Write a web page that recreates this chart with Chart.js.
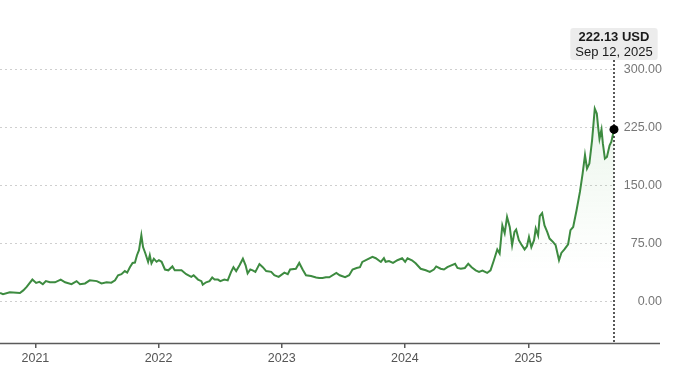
<!DOCTYPE html>
<html>
<head>
<meta charset="utf-8">
<script src="https://cdn.jsdelivr.net/npm/chart.js@4/dist/chart.umd.min.js"></script>
<style>
  html, body { margin: 0; padding: 0; background: #fff; }
  #wrap { width: 680px; height: 372px; position: relative; }
</style>
</head>
<body>
<div id="wrap"><canvas id="c"></canvas></div>
<script>
const dates = [
  '2020-09-18','2020-09-27','2020-10-17','2020-11-16','2020-11-26','2020-12-06','2020-12-23',
  '2021-01-03','2021-01-13','2021-01-23','2021-02-01','2021-02-13','2021-02-28','2021-03-17','2021-03-30',
  '2021-04-18','2021-05-03','2021-05-13','2021-05-28','2021-06-11','2021-07-02','2021-07-16','2021-07-31',
  '2021-08-14','2021-08-25','2021-09-03','2021-09-13','2021-09-23','2021-09-30','2021-10-08','2021-10-16',
  '2021-10-23','2021-10-29','2021-11-04','2021-11-11','2021-11-16','2021-11-23','2021-12-01','2021-12-06',
  '2021-12-11','2021-12-18','2021-12-26',
  '2022-01-02','2022-01-10','2022-01-20','2022-01-30','2022-02-11','2022-02-18','2022-03-10','2022-03-24',
  '2022-04-08','2022-04-15','2022-04-28','2022-05-08','2022-05-12','2022-05-22','2022-06-01','2022-06-09',
  '2022-06-16','2022-06-26','2022-07-03','2022-07-15','2022-07-25','2022-08-04','2022-08-11','2022-08-19',
  '2022-08-29','2022-09-08','2022-09-16','2022-09-22','2022-09-30','2022-10-07','2022-10-15','2022-10-27',
  '2022-11-06','2022-11-16','2022-12-01','2022-12-10','2022-12-23',
  '2023-01-09','2023-01-19','2023-01-26','2023-02-12','2023-02-22','2023-03-04','2023-03-14','2023-03-29',
  '2023-04-13','2023-04-22','2023-05-02','2023-05-12','2023-05-22','2023-06-12','2023-06-22','2023-07-08',
  '2023-07-20','2023-07-30','2023-08-11','2023-08-21','2023-08-28','2023-09-12','2023-09-27','2023-10-07',
  '2023-10-22','2023-10-31','2023-11-05','2023-11-15','2023-11-27','2023-12-10','2023-12-24',
  '2024-01-02','2024-01-09','2024-01-22','2024-02-02','2024-02-17','2024-03-03','2024-03-15','2024-03-27',
  '2024-04-03','2024-04-16','2024-04-26','2024-05-06','2024-05-16','2024-05-29','2024-06-05','2024-06-15',
  '2024-06-27','2024-07-07','2024-07-17','2024-07-29','2024-08-08','2024-08-18','2024-09-01','2024-09-11',
  '2024-09-21','2024-10-01','2024-10-08','2024-10-16','2024-10-23','2024-10-30','2024-11-07','2024-11-14',
  '2024-11-21','2024-11-26','2024-12-04','2024-12-11','2024-12-21','2024-12-28',
  '2025-01-03','2025-01-10','2025-01-18','2025-01-23','2025-01-30','2025-02-04','2025-02-11','2025-02-18',
  '2025-02-26','2025-03-05','2025-03-15','2025-03-23','2025-04-02','2025-04-09','2025-04-18','2025-04-29',
  '2025-05-06','2025-05-14','2025-05-24','2025-06-03','2025-06-11','2025-06-18','2025-06-24','2025-07-01',
  '2025-07-09','2025-07-17','2025-07-23','2025-07-27','2025-07-31','2025-08-06','2025-08-10','2025-08-16',
  '2025-08-22','2025-08-30','2025-09-04','2025-09-12'
];
const prices = [
  10.7, 9, 11.5, 10.7, 14, 18.5, 28,
  23.7, 25, 22, 26, 24.5, 24.5, 28, 24.5,
  22, 26, 22, 23, 27, 26, 23, 24.5,
  24, 27, 33.6, 35, 39, 37, 44, 49.5,
  50, 59.5, 66, 85.3, 70, 61.7, 50.8, 59.5,
  49, 55, 51,
  53, 51, 41, 40, 45, 40, 40, 35,
  31.5, 33.6, 28, 26, 21.5, 24.5, 26, 30.6,
  28, 28, 26, 28, 27, 38, 44, 39,
  46.5, 55, 46.5, 36, 41, 40, 38, 48,
  44, 39, 38, 33.6, 31.5,
  37, 35, 41, 42, 49.5, 41, 33.6, 32.5,
  30.6, 30, 30, 31, 31, 36.6, 33.6, 31,
  33.6, 41, 43, 44, 50.8, 54, 57.3, 55.6,
  50.8, 55.6, 51, 52, 49.5, 53, 55.6,
  51, 55.6, 53, 49, 42, 40, 38, 41,
  45, 42, 41, 44, 46, 48.5, 43, 42,
  43, 48.5, 44, 40, 38, 39.6, 36.6, 40,
  53, 67, 61.7, 98, 88, 109, 96, 72.4,
  89.6, 92.7, 79, 73.7, 67, 71,
  83, 70, 79, 94, 85, 110, 114, 98,
  89.6, 81, 76.7, 72.4, 53, 62.5, 67, 73.7,
  92, 96, 117.7, 141.3, 165, 189, 171.6, 178,
  208, 249, 242.7, 225, 210, 222, 204, 184.5,
  186.6, 201.7, 206, 222.13
];
const yearTicks = ['2021', '2022', '2023', '2024', '2025'];
const priceTicks = [0, 75, 150, 225, 300];
const currency = 'USD';
const lastDateLabel = 'Sep 12, 2025';

const toMs = s => { const [y, m, d] = s.split('-').map(Number); return Date.UTC(y, m - 1, d); };
const points = dates.map((d, i) => ({ x: toMs(d), y: prices[i] }));
const yearTickValues = yearTicks.map(y => Date.UTC(Number(y), 0, 1));

const LINE = '#3d8b40';

const overlay = {
  id: 'overlay',
  afterDraw(chart) {
    const { ctx, chartArea } = chart;
    const xs = chart.scales.x, ys = chart.scales.y;
    const last = points[points.length - 1];
    const px = xs.getPixelForValue(last.x);
    const py = ys.getPixelForValue(last.y);
    ctx.save();
    // x axis baseline
    ctx.strokeStyle = '#5a5a5a';
    ctx.lineWidth = 1.5;
    ctx.beginPath();
    ctx.moveTo(chartArea.left, chartArea.bottom + 0.5);
    ctx.lineTo(660, chartArea.bottom + 0.5);
    ctx.stroke();
    // dotted vertical line
    ctx.strokeStyle = '#222';
    ctx.lineWidth = 1.5;
    ctx.setLineDash([2, 2]);
    ctx.beginPath();
    ctx.moveTo(px, 60);
    ctx.lineTo(px, chartArea.bottom);
    ctx.stroke();
    ctx.setLineDash([]);
    // dot
    ctx.fillStyle = '#000';
    ctx.beginPath();
    ctx.arc(px, py, 4.5, 0, Math.PI * 2);
    ctx.fill();
    // label box
    const t1 = last.y.toFixed(2) + ' ' + currency;
    const t2 = lastDateLabel;
    ctx.font = '13px "Liberation Sans", Arial, sans-serif';
    const w = Math.max(ctx.measureText(t1).width, ctx.measureText(t2).width) + 10;
    const bx = px - w / 2, by = 28, bh = 32;
    ctx.fillStyle = '#ececec';
    ctx.beginPath();
    if (ctx.roundRect) ctx.roundRect(bx, by, w, bh, 3); else ctx.rect(bx, by, w, bh);
    ctx.fill();
    ctx.fillStyle = '#1a1a1a';
    ctx.textAlign = 'center';
    ctx.textBaseline = 'middle';
    ctx.font = '600 13px "Liberation Sans", Arial, sans-serif';
    ctx.fillText(t1, px, by + 9);
    ctx.font = '13px "Liberation Sans", Arial, sans-serif';
    ctx.fillText(t2, px, by + 24);
    ctx.restore();
  }
};

new Chart(document.getElementById('c'), {
  type: 'line',
  data: {
    datasets: [{
      data: points,
      borderColor: LINE,
      borderWidth: 2,
      pointRadius: 0,
      tension: 0,
      fill: 'start',
      backgroundColor: (ctx) => {
        const ch = ctx.chart;
        const area = ch.chartArea;
        if (!area) return 'rgba(0,0,0,0)';
        const y0 = ch.scales.y.getPixelForValue(40);
        const g = ch.ctx.createLinearGradient(0, area.top, 0, y0);
        g.addColorStop(0, 'rgba(90,175,90,0.16)');
        g.addColorStop(1, 'rgba(90,175,90,0)');
        return g;
      }
    }]
  },
  options: {
    responsive: true,
    maintainAspectRatio: false,
    animation: false,
    layout: { padding: { left: 0, right: 18, top: 46, bottom: 0 } },
    plugins: { legend: { display: false }, tooltip: { enabled: false } },
    scales: {
      x: {
        type: 'linear',
        min: points[0].x,
        max: points[points.length - 1].x,
        offset: false,
        afterBuildTicks: (s) => { s.ticks = yearTickValues.map(v => ({ value: v })); },
        afterFit: (s) => { s.height = 29; },
        ticks: {
          autoSkip: false,
          maxRotation: 0,
          padding: 3,
          color: '#555',
          font: { family: '"Liberation Sans", Arial, sans-serif', size: 12.5 },
          callback: (v) => yearTicks[yearTickValues.indexOf(v)]
        },
        grid: { drawOnChartArea: false, drawTicks: true, tickLength: 5, color: '#5a5a5a', lineWidth: 1.5 },
        border: { display: false }
      },
      y: {
        position: 'right',
        min: -54,
        max: 330,
        afterBuildTicks: (s) => { s.ticks = priceTicks.map(v => ({ value: v })); },
        afterFit: (s) => { s.width = 48; },
        ticks: {
          crossAlign: 'far',
          color: '#777',
          padding: 0,
          font: { family: '"Liberation Sans", Arial, sans-serif', size: 12.5 },
          callback: (v) => v.toFixed(2)
        },
        grid: { color: '#cfcfcf', drawTicks: false, lineWidth: 1, tickBorderDash: [] },
        border: { display: false, dash: [2, 3] }
      }
    }
  },
  plugins: [overlay]
});
</script>
</body>
</html>
